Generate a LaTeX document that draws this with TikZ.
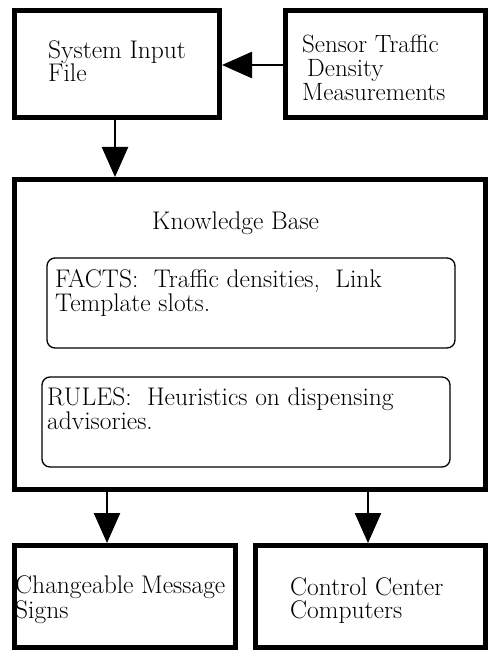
\documentclass[tikz,border=0pt]{standalone}
\usepackage{fontspec}
\setmainfont{Latin Modern Roman}
\usetikzlibrary{arrows.meta}

\begin{document}
\begin{tikzpicture}[x=1pt, y=-1pt,
    heavybox/.style={draw, line width=5pt, rectangle, inner sep=0pt, outer sep=2.5pt},
    slotbox/.style={draw, line width=1.3pt, rectangle, rounded corners=8pt, inner sep=0pt, outer sep=0.65pt},
    label/.style={anchor=base west, inner sep=0pt, align=left,
                  font=\fontsize{25.5}{23}\selectfont},
    tightlabel/.style={label, font=\fontsize{25.5}{21}\selectfont},
    flow/.style={line width=2.5pt, -{Triangle[length=30pt, width=26pt]}}]
  \fill[white] (0,0) rectangle (489,655);
  \useasboundingbox (0,0) rectangle (489,655);

  % top row (text nodes are placed by the baseline of their last line)
  \node[heavybox, minimum width=205pt, minimum height=107pt] (sif) at (117,64) {};
  \node[heavybox, minimum width=200pt, minimum height=107pt] (sen) at (385.5,64) {};
  \node[label] (sift) at (48,82) {System Input\\File};
  \node[label, font=\fontsize{25}{24}\selectfont] (sent) at (302,101)
       {Sensor Traffic\\\hspace*{5pt}Density\\Measurements};

  % knowledge base with its two slots
  \node[heavybox, minimum width=471pt, minimum height=310pt] (kb) at (250,334.5) {};
  \node[label] (kbt) at (152,229) {Knowledge Base};
  \node[slotbox, minimum width=408pt, minimum height=90pt] (facts) at (251,303) {};
  \node[tightlabel] (factst) at (55,311)
       {FACTS:\ \ Traffic densities,\ \ Link\\Template slots.};
  \node[slotbox, minimum width=408pt, minimum height=90pt] (rules) at (246,422) {};
  \node[tightlabel] (rulest) at (47,429)
       {RULES:\ \ Heuristics on dispensing\\advisories.};

  % outputs
  \node[heavybox, minimum width=221pt, minimum height=102pt] (cms) at (125,596.5) {};
  \node[heavybox, minimum width=230pt, minimum height=102pt] (ccc) at (370.5,596.5) {};
  \node[label] (cmst) at (15,618) {Changeable Message\\Signs};
  \node[label] (ccct) at (290,618) {Control Center\\Computers};

  % data flow
  \draw[flow] (sen.west |- 0,65) -- (sif.east |- 0,65);
  \draw[flow] (sif.south -| 115,0) -- (kb.north -| 115,0);
  \draw[flow] (kb.south -| 107,0) -- (cms.north -| 107,0);
  \draw[flow] (kb.south -| 368,0) -- (ccc.north -| 368,0);
\end{tikzpicture}
\end{document}
